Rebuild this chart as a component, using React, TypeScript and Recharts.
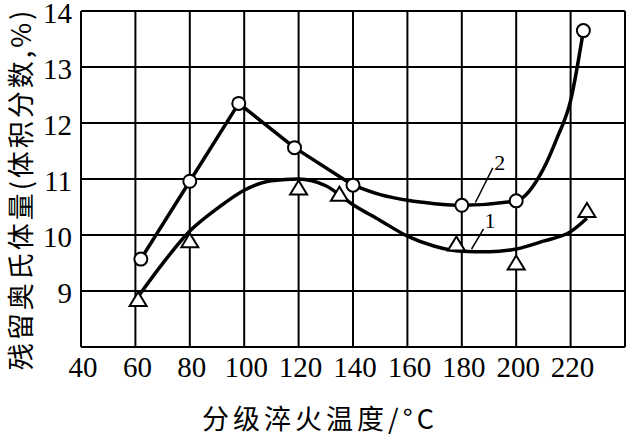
import React from 'react';
import {
  ComposedChart,
  Line,
  Scatter,
  XAxis,
  YAxis,
  CartesianGrid,
  ReferenceLine,
  ReferenceDot,
} from 'recharts';

// ---- data ----
const xTicks = [40, 60, 80, 100, 120, 140, 160, 180, 200, 220, 240];
const yTicks = [8, 9, 10, 11, 12, 13, 14];

// curve 2 measured points (open circles)
const curve2Temps = [62, 80, 98, 118.5, 140, 180, 200, 224.7];
const curve2Values = [9.57, 10.96, 12.35, 11.56, 10.89, 10.53, 10.61, 13.65];

// curve 2 drawn line: straight part, then smooth part
const curve2StraightTemps = [62, 80, 98, 118.5, 140];
const curve2StraightValues = [9.57, 10.96, 12.35, 11.56, 10.89];
const curve2SmoothTemps = [140, 150, 160, 170, 180, 200, 210, 215, 220, 224.7];
const curve2SmoothValues = [10.89, 10.72, 10.62, 10.56, 10.53, 10.61, 11.18, 11.73, 12.4, 13.65];

// curve 1 measured points (open triangles)
const curve1PointTemps = [61, 80, 120, 135, 178, 200, 226];
const curve1PointValues = [8.84, 9.89, 10.83, 10.72, 9.83, 9.49, 10.43];

// curve 1 fitted line
const curve1FitTemps = [61, 70, 80, 90, 100, 110, 120, 130, 140, 150, 160, 170, 180, 190, 200, 210, 220, 226];
const curve1FitValues = [8.9, 9.49, 10.07, 10.47, 10.8, 10.97, 11.0, 10.88, 10.54, 10.26, 9.98, 9.8, 9.71, 9.7, 9.75, 9.89, 10.06, 10.3];

// annotation leaders
const leader2 = { from: [185, 10.58], to: [191.4, 11.2], label: '2', at: [194.3, 11.27] };
const leader1 = { from: [183.6, 9.75], to: [188, 10.11], label: '1', at: [190.7, 10.24] };

const xTitle = '分级淬火温度/°C';
const yTitle = '残留奥氏体量(体积分数,%)';

const curve2Pts = curve2Temps.map((x, i) => ({ x, y: curve2Values[i] }));
const curve2Straight = curve2StraightTemps.map((x, i) => ({ x, y: curve2StraightValues[i] }));
const curve2Smooth = curve2SmoothTemps.map((x, i) => ({ x, y: curve2SmoothValues[i] }));
const curve1Pts = curve1PointTemps.map((x, i) => ({ x, y: curve1PointValues[i] }));
const curve1Fit = curve1FitTemps.map((x, i) => ({ x, y: curve1FitValues[i] }));

const SERIF = "'Times New Roman', 'Liberation Serif', 'DejaVu Serif', serif";
const CJK = "'Noto Sans CJK SC', sans-serif";

const Triangle = (props: any) => {
  const { cx, cy } = props;
  if (cx == null || cy == null) return null;
  const pts = `${cx},${cy - 8} ${cx - 8.5},${cy + 6} ${cx + 8.5},${cy + 6}`;
  return <polygon points={pts} fill="#fff" stroke="#000" strokeWidth={2} />;
};

const Circle = (props: any) => {
  const { cx, cy } = props;
  if (cx == null || cy == null) return null;
  return <circle cx={cx} cy={cy} r={6.5} fill="#fff" stroke="#000" strokeWidth={2} />;
};

const XTick = (props: any) => {
  const v = props.payload?.value;
  if (v === 240) return null;
  return (
    <text x={props.x + 2} y={props.y + 12} textAnchor="middle" dominantBaseline="central" fontFamily={SERIF} fontSize={29} fill="#000">
      {String(v)}
    </text>
  );
};

const YTick = (props: any) => {
  const v = props.payload?.value;
  if (v === 8) return null;
  return (
    <text x={props.x - 1} y={props.y + 2} textAnchor="end" dominantBaseline="central" fontFamily={SERIF} fontSize={29} fill="#000">
      {String(v)}
    </text>
  );
};

const AnnotText = (text: string) => (props: any) => {
  const vb = props.viewBox || {};
  const cx = vb.cx ?? vb.x;
  const cy = vb.cy ?? vb.y;
  return (
    <text x={cx} y={cy} textAnchor="middle" dominantBaseline="central" fontFamily={SERIF} fontSize={22} fill="#000">
      {text}
    </text>
  );
};

export default function App() {
  return (
    <div style={{ position: 'absolute', left: 0, top: 0, width: 628, height: 435, background: '#fff' }}>
      <ComposedChart width={628} height={435} margin={{ top: 11, right: 3, left: 0, bottom: 0 }}>
        <CartesianGrid stroke="#000" strokeWidth={2} />
        <XAxis
          type="number"
          dataKey="x"
          domain={[40, 240]}
          ticks={xTicks}
          interval={0}
          height={88}
          tickLine={false}
          axisLine={{ stroke: '#000', strokeWidth: 2 }}
          tick={<XTick />}
          label={(p: any) => {
            const vb = p.viewBox || {};
            return (
              <text x={vb.x + vb.width / 2 - 33} y={vb.y + 70} textAnchor="middle" dominantBaseline="central" fontFamily={CJK} fontSize={27} letterSpacing={4} fill="#000">
                {xTitle}
              </text>
            );
          }}
        />
        <YAxis
          type="number"
          domain={[8, 14]}
          ticks={yTicks}
          interval={0}
          width={81}
          tickLine={false}
          axisLine={{ stroke: '#000', strokeWidth: 2 }}
          tick={<YTick />}
          label={() => (
            <text x={19} y={189} transform="rotate(-90 19 189)" textAnchor="middle" dominantBaseline="central" fontFamily={CJK} fontSize={27} letterSpacing={3} fill="#000">
              {yTitle}
            </text>
          )}
        />
        <Line
          data={curve1Fit}
          dataKey="y"
          type="monotone"
          stroke="#000"
          strokeWidth={3.5}
          dot={false}
          activeDot={false}
          isAnimationActive={false}
        />
        <Line
          data={curve2Straight}
          dataKey="y"
          type="linear"
          stroke="#000"
          strokeWidth={3.5}
          strokeLinejoin="round"
          dot={false}
          activeDot={false}
          isAnimationActive={false}
        />
        <Line
          data={curve2Smooth}
          dataKey="y"
          type="monotone"
          stroke="#000"
          strokeWidth={3.5}
          dot={false}
          activeDot={false}
          isAnimationActive={false}
        />
        <Scatter data={curve2Pts} dataKey="y" shape={<Circle />} isAnimationActive={false} />
        <Scatter data={curve1Pts} dataKey="y" shape={<Triangle />} isAnimationActive={false} />
        <ReferenceLine
          segment={[{ x: leader2.from[0], y: leader2.from[1] }, { x: leader2.to[0], y: leader2.to[1] }]}
          stroke="#000"
          strokeWidth={1.5}
        />
        <ReferenceLine
          segment={[{ x: leader1.from[0], y: leader1.from[1] }, { x: leader1.to[0], y: leader1.to[1] }]}
          stroke="#000"
          strokeWidth={1.5}
        />
        <ReferenceDot x={leader2.at[0]} y={leader2.at[1]} r={1} fill="none" stroke="none" label={AnnotText(leader2.label)} />
        <ReferenceDot x={leader1.at[0]} y={leader1.at[1]} r={1} fill="none" stroke="none" label={AnnotText(leader1.label)} />
      </ComposedChart>
    </div>
  );
}
